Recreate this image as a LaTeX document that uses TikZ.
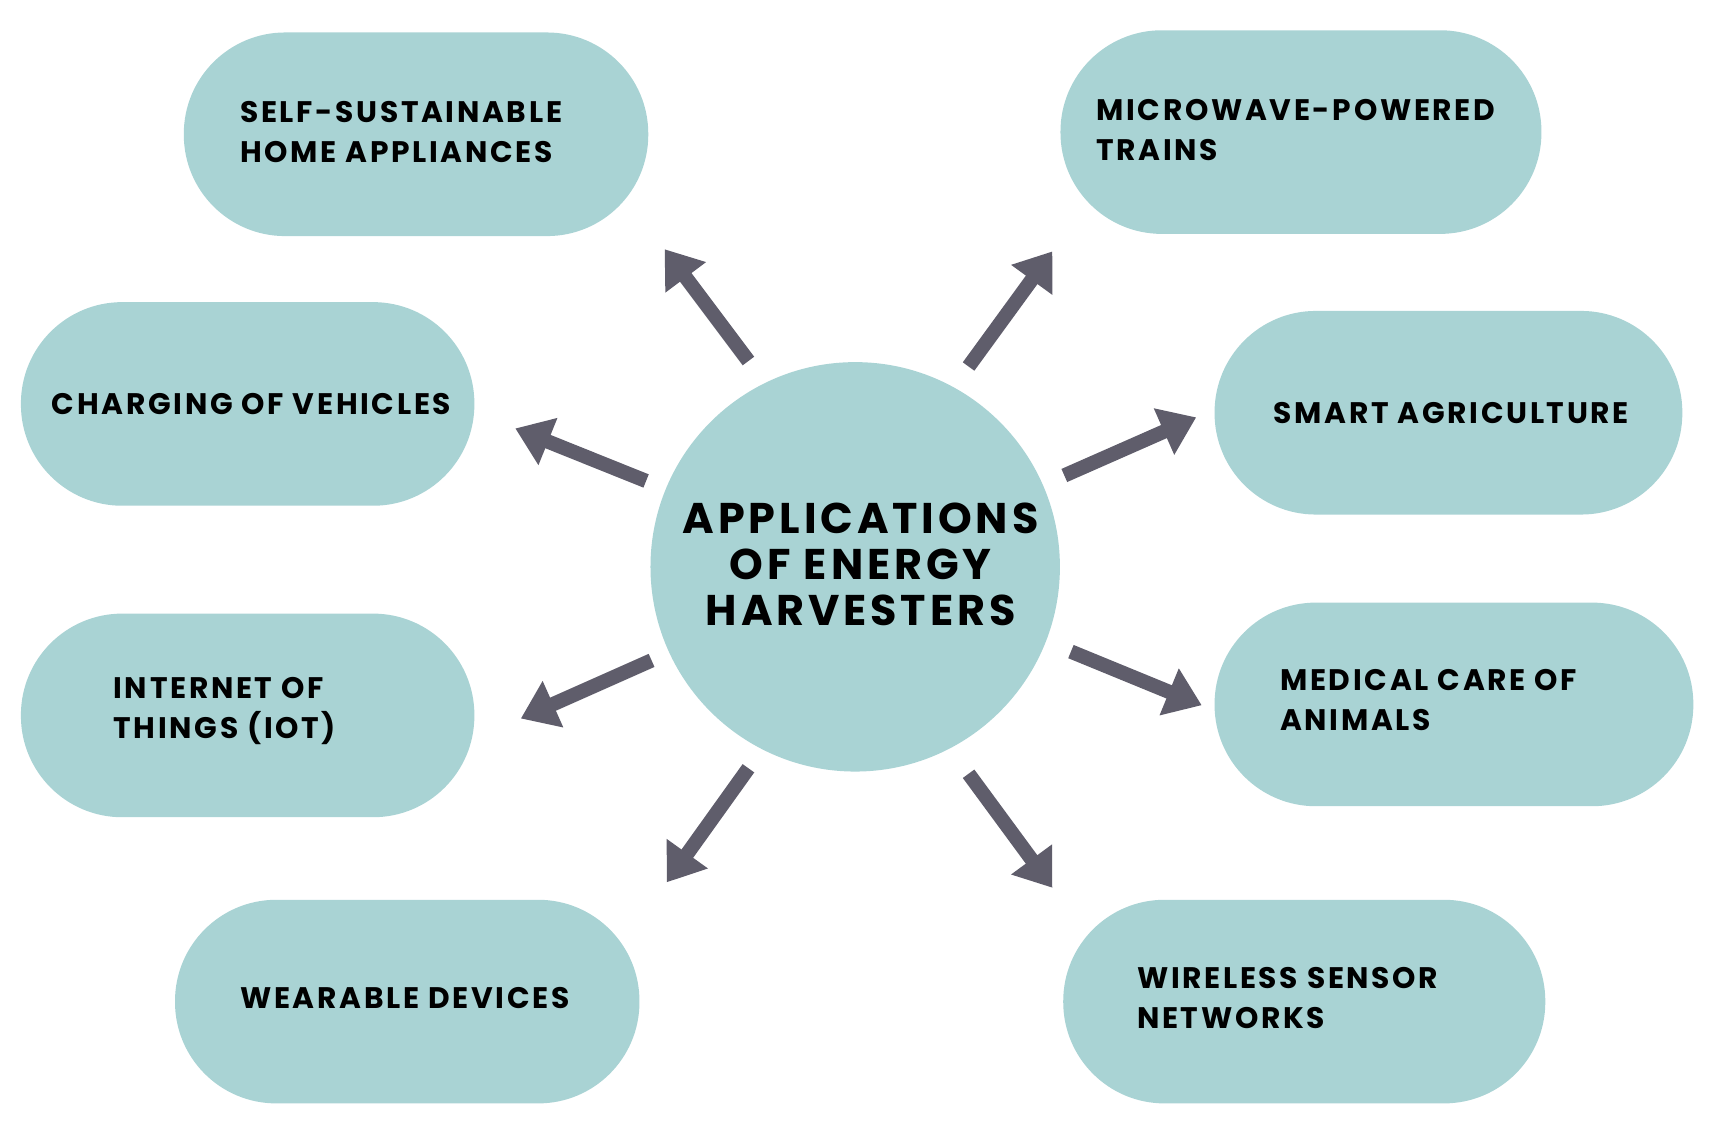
\documentclass[tikz,border=0pt]{standalone}
\usepackage{fontspec}
\setmainfont{Poppins}[LetterSpace=9]
\usetikzlibrary{arrows.meta}
\definecolor{pill}{HTML}{A9D3D4}
\definecolor{arr}{HTML}{5F5D6B}
\begin{document}
\begin{tikzpicture}[x=1pt,y=-1pt,
  pill/.style={fill=pill,draw=none,rounded corners=92pt,minimum width=#1,minimum height=185pt,inner sep=0},
  lbl/.style={anchor=west,align=left,font=\bfseries\fontsize{27}{36}\selectfont,inner sep=0,text=black},
  ar/.style={draw=arr,line width=13pt,-{Triangle[width=44pt,length=32pt]},shorten >=-2pt}]
\useasboundingbox (0,0) rectangle (1560,1027);
\node[pill=422pt] (a) at (378,122) {};
\node[pill=437pt] (b) at (1182,120) {};
\node[pill=412pt] (c) at (225,367) {};
\node[pill=425pt] (d) at (1316,375) {};
\node[pill=412pt] (e) at (225,650) {};
\node[pill=435pt] (f) at (1321,640) {};
\node[pill=422pt] (g) at (370,910) {};
\node[pill=438pt] (h) at (1185,910) {};
\node[circle,fill=pill,minimum size=372pt,inner sep=0] (m) at (777,515) {};
\node[font=\bfseries\fontsize{39}{42}\selectfont,align=center] (mt) at (782,513) {APPLICATIONS\\OF ENERGY\\HARVESTERS};
\node[lbl] (ta) at (218,120) {SELF-SUSTAINABLE\\HOME APPLIANCES};
\node[lbl] (tb) at (996,118) {MICROWAVE-POWERED\\TRAINS};
\node[lbl] (tc) at (47,367) {CHARGING OF VEHICLES};
\node[lbl] (td) at (1157,375) {SMART AGRICULTURE};
\node[lbl] (te) at (103,646) {INTERNET OF\\THINGS (IOT)};
\node[lbl] (tf) at (1163,636) {MEDICAL CARE OF\\ANIMALS};
\node[lbl] (tg) at (218,907) {WEARABLE DEVICES};
\node[lbl] (th) at (1033,907) {WIRELESS SENSOR\\NETWORKS};
\coordinate (s1) at (680,328); \coordinate (e1) at (605,228);
\coordinate (s2) at (880,333); \coordinate (e2) at (955,230);
\coordinate (s3) at (587,437); \coordinate (e3) at (470,390);
\coordinate (s4) at (967,432); \coordinate (e4) at (1085,380);
\coordinate (s5) at (592,600); \coordinate (e5) at (475,652);
\coordinate (s6) at (973,592); \coordinate (e6) at (1090,640);
\coordinate (s7) at (680,698); \coordinate (e7) at (607,800);
\coordinate (s8) at (880,703); \coordinate (e8) at (955,805);
\foreach \i in {1,...,8} \draw[ar] (s\i) -- (e\i);
\end{tikzpicture}
\end{document}
